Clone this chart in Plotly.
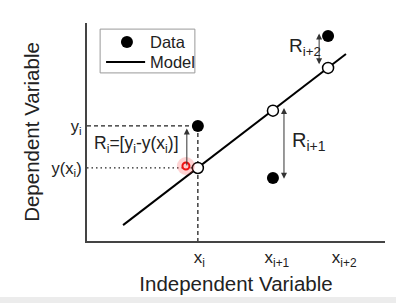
import plotly.graph_objects as go

# ---- data (in axis units: both axes 0..10) ----
x_points = [3.72, 6.24, 8.09]          # x_i, x_{i+1}, x_{i+2}
y_data = [5.28, 2.89, 9.40]            # observed data
y_model = [3.35, 5.98, 7.94]           # model values at x_i...
x_line = [1.21, 8.69]                  # model line extent
y_line = [0.73, 8.58]
x_tick_vals = [3.77, 6.37, 8.63]
x_tick_text = ["x<sub>i</sub>", "x<sub>i+1</sub>", "x<sub>i+2</sub>"]
y_tick_vals = [y_data[0], y_model[0]]
y_tick_text = ["y<sub>i</sub>", "y(x<sub>i</sub>)"]
cursor_xy = [3.32, 3.44]
legend_labels = ["Data", "Model"]

FONT = "Liberation Sans, Arial, sans-serif"
INK = "#222222"

fig = go.Figure()

# guide lines for point i
fig.add_trace(go.Scatter(x=[0, x_points[0]], y=[y_data[0], y_data[0]], mode="lines",
                         line=dict(color=INK, width=1.3, dash="4px,3px"), showlegend=False, hoverinfo="skip"))
fig.add_trace(go.Scatter(x=[x_points[0], x_points[0]], y=[y_data[0], 0], mode="lines",
                         line=dict(color=INK, width=1.3, dash="4px,3px"), showlegend=False, hoverinfo="skip"))
fig.add_trace(go.Scatter(x=[0, x_points[0]], y=[y_model[0], y_model[0]], mode="lines",
                         line=dict(color=INK, width=1.3, dash="1.5px,3px"), showlegend=False, hoverinfo="skip"))

# model line
fig.add_trace(go.Scatter(x=x_line, y=y_line, mode="lines", name="Model", showlegend=False,
                         line=dict(color="black", width=2)))
# model points (open circles)
fig.add_trace(go.Scatter(x=x_points, y=y_model, mode="markers", showlegend=False,
                         marker=dict(symbol="circle", size=11, color="white",
                                     line=dict(color="black", width=1.5))))
# data
fig.add_trace(go.Scatter(x=x_points, y=y_data, mode="markers", name="Data", showlegend=False,
                         marker=dict(symbol="circle", size=12, color="black")))

# cursor highlight
fig.add_trace(go.Scatter(x=[cursor_xy[0]], y=[cursor_xy[1]], mode="markers", showlegend=False,
                         marker=dict(size=18, color="rgba(255,80,80,0.25)", line=dict(width=0))))
fig.add_trace(go.Scatter(x=[cursor_xy[0]], y=[cursor_xy[1]], mode="markers", showlegend=False,
                         marker=dict(size=7, color="rgba(255,200,200,1)", line=dict(color="#ee1111", width=2))))

# legend (drawn inside the plot, boxed)
fig.add_trace(go.Scatter(x=[1.34], y=[9.13], mode="markers", showlegend=False, hoverinfo="skip",
                         marker=dict(symbol="circle", size=12, color="black")))
fig.add_trace(go.Scatter(x=[0.64, 1.95], y=[8.21, 8.21], mode="lines", showlegend=False, hoverinfo="skip",
                         line=dict(color="black", width=2)))

ann = []
def arrow(x, y0, y1, both):
    ann.append(dict(x=x, y=y1, ax=x, ay=y0, xref="x", yref="y", axref="x", ayref="y",
                    showarrow=True, arrowhead=2, arrowsize=1.2, arrowwidth=1,
                    arrowcolor="#333333", arrowside="end+start" if both else "end", text=""))

arrow(x_points[0] - 0.37, y_model[0] + 0.05, y_data[0] - 0.12, False)
arrow(x_points[1] + 0.37, y_data[1] - 0.1, y_model[1] + 0.12, True)
arrow(x_points[2] - 0.3, y_model[2] + 0.1, y_data[2] + 0.12, True)

ann.append(dict(x=0.18, y=4.42, xref="x", yref="y", xanchor="left", yanchor="middle", showarrow=False,
                text="R<sub>i</sub>=[y<sub>i</sub>-y(x<sub>i</sub>)]", font=dict(size=17.5, color=INK, family=FONT)))
ann.append(dict(x=6.8, y=4.55, xref="x", yref="y", xanchor="left", yanchor="middle", showarrow=False,
                text="R<sub>i+1</sub>", font=dict(size=20, color=INK, family=FONT)))
ann.append(dict(x=6.7, y=8.9, xref="x", yref="y", xanchor="left", yanchor="middle", showarrow=False,
                text="R<sub>i+2</sub>", font=dict(size=19, color=INK, family=FONT)))
ann.append(dict(x=2.05, y=9.13, xref="x", yref="y", xanchor="left", yanchor="middle", showarrow=False,
                text=legend_labels[0], font=dict(size=16.5, color=INK, family=FONT)))
ann.append(dict(x=2.05, y=8.21, xref="x", yref="y", xanchor="left", yanchor="middle", showarrow=False,
                text=legend_labels[1], font=dict(size=16.5, color=INK, family=FONT)))

fig.update_layout(
    width=396, height=303,
    margin=dict(l=87, r=11, t=23, b=62),
    paper_bgcolor="white", plot_bgcolor="white",
    font=dict(family=FONT, color=INK),
    annotations=ann,
    showlegend=False,
    shapes=[dict(type="rect", xref="paper", yref="paper", x0=-0.4, x1=1.1, y0=-0.285, y1=-0.257,
                 fillcolor="#ececec", line=dict(width=0), layer="below"),
            dict(type="rect", xref="x", yref="y", x0=0.44, x1=3.62, y0=7.71, y1=9.72,
                 fillcolor="white", line=dict(color="#999999", width=1), layer="below")],
)
fig.update_xaxes(range=[0, 10], showline=True, linecolor="#444444", linewidth=2, showgrid=False,
                 zeroline=False, ticks="", tickvals=x_tick_vals, ticktext=x_tick_text,
                 tickfont=dict(size=17, family=FONT, color=INK),
                 title=dict(text="Independent Variable", font=dict(size=20.5, family=FONT, color=INK), standoff=8))
fig.update_yaxes(range=[0, 10], showline=True, linecolor="#444444", linewidth=2, showgrid=False,
                 zeroline=False, ticks="", tickvals=y_tick_vals, ticktext=y_tick_text,
                 tickfont=dict(size=16.5, family=FONT, color=INK),
                 title=dict(text="Dependent Variable", font=dict(size=20.5, family=FONT, color=INK), standoff=6))

fig.write_html("out.html")
